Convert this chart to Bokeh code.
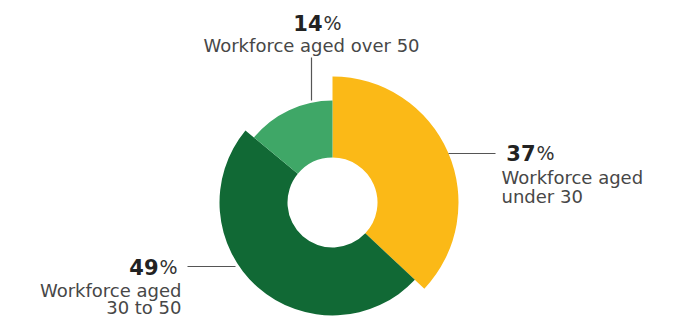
import math
from bokeh.plotting import figure
from bokeh.models import Range1d, ColumnDataSource
from bokeh.core.properties import value
from bokeh.embed import file_html
from bokeh.resources import INLINE

# ---- data ----
categories = ["Workforce aged under 30", "Workforce aged 30 to 50", "Workforce aged over 50"]
percents = [37, 49, 14]
colors = ["#FBB917", "#116935", "#3FA767"]
outer_radii = [126, 113, 102]   # style: each slice's outer radius in px
label_lines = [["Workforce aged", "under 30"], ["Workforce aged", "30 to 50"], ["Workforce aged over 50"]]

W, H = 690, 317
PAGE_H = 317

def Y(page_y):
    return PAGE_H - page_y

p = figure(width=W, height=H, output_backend="svg", toolbar_location=None,
           x_range=Range1d(0, W), y_range=Range1d(0, H),
           min_border=0, outline_line_color=None)
p.axis.visible = False
p.grid.visible = False
p.background_fill_color = "white"
p.border_fill_color = "white"

cx, cy = 332, Y(202)
inner_r = 45

# wedges, starting at 12 o'clock going clockwise
total = sum(percents)
start = math.pi / 2
starts, ends = [], []
for v in percents:
    span = 2 * math.pi * v / total
    ends.append(start)
    starts.append(start - span)
    start -= span

src = ColumnDataSource(dict(x=[cx] * 3, y=[cy] * 3, r=outer_radii, s=starts, e=ends, c=colors))
p.annular_wedge(x="x", y="y", inner_radius=inner_r, outer_radius="r", start_angle="s", end_angle="e",
                fill_color="c", line_color=None, source=src)

line_col = "#555555"
# leader lines
p.segment(x0=[448, 187, 311], y0=[Y(153), Y(266), Y(57)], x1=[495, 235, 311], y1=[Y(153), Y(266), Y(100)],
          line_color=line_col, line_width=1.2)

num_font = value("DejaVu Sans")
lab_font = value("DejaVu Sans")
num_col = "#222222"
lab_col = "#474747"
lab_size = "18px"

def pct(x_split, center_y, v):
    p.text(x=[x_split - 1], y=[Y(center_y)], text=[str(v)], text_font=num_font, text_font_style="bold",
           text_font_size="21px", text_color=num_col, text_align="right", text_baseline="middle")
    p.text(x=[x_split], y=[Y(center_y)], text=["%"], text_font=num_font, text_font_style="normal",
           text_font_size="19px", text_color="#333333", text_align="left", text_baseline="middle")

# under 30 (right)
pct(536, 152, percents[0])
p.text(x=[501, 501], y=[Y(177), Y(196)], text=label_lines[0], text_font=lab_font, text_font_size=lab_size,
       text_color=lab_col, text_align="left", text_baseline="middle")
# 30 to 50 (left, right aligned)
pct(159, 266, percents[1])
p.text(x=[181, 181], y=[Y(290), Y(307)], text=label_lines[1], text_font=lab_font, text_font_size=lab_size,
       text_color=lab_col, text_align="right", text_baseline="middle")
# over 50 (top)
pct(323, 22, percents[2])
p.text(x=[311], y=[Y(45)], text=label_lines[2], text_font=lab_font, text_font_size=lab_size,
       text_color=lab_col, text_align="center", text_baseline="middle")

open("out.html", "w").write(file_html(p, INLINE))
